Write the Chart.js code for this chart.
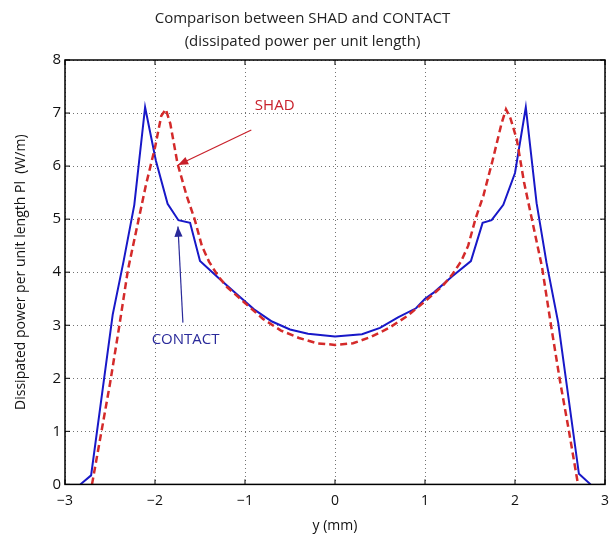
<!DOCTYPE html>
<html>
<head>
<meta charset="utf-8">
<script src="https://cdn.jsdelivr.net/npm/chart.js@4"></script>
<style>
  html, body { margin: 0; padding: 0; background: #fff; }
  #wrap { width: 612px; height: 539px; }
</style>
</head>
<body>
<div id="wrap"><canvas id="chart" width="612" height="539"></canvas></div>
<script>
// CONTACT curve (blue solid)
const contactX = [-2.83, -2.71, -2.47, -2.35, -2.23, -2.11, -1.99, -1.86, -1.74, -1.61, -1.50,
    -1.3, -1.1, -0.9, -0.7, -0.5, -0.3, 0, 0.3, 0.5, 0.7, 0.9, 1.0, 1.1, 1.3, 1.51,
    1.64, 1.74, 1.87, 2.0, 2.12, 2.24, 2.35, 2.48, 2.71, 2.84];
const contactY = [0, 0.17, 3.2, 4.2, 5.27, 7.11, 6.1, 5.29, 4.98, 4.93, 4.21,
    3.9, 3.6, 3.3, 3.07, 2.92, 2.84, 2.79, 2.83, 2.95, 3.15, 3.32, 3.5, 3.62, 3.92, 4.21,
    4.93, 4.98, 5.27, 5.87, 7.11, 5.3, 4.18, 3.05, 0.2, 0];

// SHAD curve (red dashed)
const shadX = [-2.7, -2.6, -2.5, -2.4, -2.3, -2.2, -2.1, -2.0, -1.93, -1.88, -1.83, -1.75, -1.65,
    -1.56, -1.48, -1.4, -1.3, -1.2, -1.0, -0.8, -0.6, -0.4, -0.2, 0, 0.2, 0.4, 0.6, 0.8, 1.0,
    1.2, 1.3, 1.4, 1.48, 1.56, 1.65, 1.75, 1.85, 1.90, 1.95, 2.02, 2.1, 2.2, 2.3, 2.4, 2.5, 2.6, 2.7];
const shadY = [0, 0.95, 1.9, 2.95, 4.05, 4.85, 5.65, 6.35, 6.95, 7.07, 6.8, 6.05, 5.45,
    5.0, 4.5, 4.2, 3.93, 3.72, 3.42, 3.12, 2.9, 2.76, 2.66, 2.63, 2.66, 2.78, 2.95, 3.17, 3.45,
    3.75, 3.95, 4.2, 4.5, 5.0, 5.45, 6.1, 6.8, 7.07, 6.9, 6.5, 5.7, 4.9, 4.1, 3.0, 1.95, 1.0, 0];

const xTicks = [-3, -2, -1, 0, 1, 2, 3];
const yTicks = [0, 1, 2, 3, 4, 5, 6, 7, 8];

const toPoints = (xs, ys) => xs.map((x, i) => ({ x: x, y: ys[i] }));

const FONT = '"Open Sans", "Noto Sans", sans-serif';

// labels with arrows, in data units
const notes = [
    { text: 'SHAD', color: '#c8202a', tx: -0.67, ty: 7.13, from: [-0.93, 6.68], to: [-1.745, 6.02] },
    { text: 'CONTACT', color: '#2a2a9a', tx: -1.66, ty: 2.72, from: [-1.69, 3.05], to: [-1.745, 4.86] }
];

// matlab-like box, inner ticks and annotations
const boxPlugin = {
    id: 'boxPlugin',
    afterDraw(chart) {
        const { ctx, chartArea: a, scales } = chart;
        const xs = scales.x, ys = scales.y;
        ctx.save();
        ctx.strokeStyle = '#000';
        ctx.lineWidth = 1.5;
        ctx.strokeRect(a.left, a.top, a.right - a.left, a.bottom - a.top);
        ctx.lineWidth = 1;
        ctx.beginPath();
        xTicks.forEach(v => {
            const px = xs.getPixelForValue(v);
            ctx.moveTo(px, a.bottom); ctx.lineTo(px, a.bottom - 5);
            ctx.moveTo(px, a.top); ctx.lineTo(px, a.top + 5);
        });
        yTicks.forEach(v => {
            const py = ys.getPixelForValue(v);
            ctx.moveTo(a.left, py); ctx.lineTo(a.left + 5, py);
            ctx.moveTo(a.right, py); ctx.lineTo(a.right - 5, py);
        });
        ctx.stroke();

        notes.forEach(n => {
            ctx.fillStyle = n.color;
            ctx.strokeStyle = n.color;
            ctx.font = '15px ' + FONT;
            ctx.textAlign = 'center';
            ctx.textBaseline = 'middle';
            ctx.fillText(n.text, xs.getPixelForValue(n.tx), ys.getPixelForValue(n.ty));
            const x1 = xs.getPixelForValue(n.from[0]), y1 = ys.getPixelForValue(n.from[1]);
            const x2 = xs.getPixelForValue(n.to[0]), y2 = ys.getPixelForValue(n.to[1]);
            ctx.lineWidth = 1.2;
            ctx.beginPath();
            ctx.moveTo(x1, y1); ctx.lineTo(x2, y2);
            ctx.stroke();
            const ang = Math.atan2(y2 - y1, x2 - x1);
            const len = 11, w = 0.38;
            ctx.beginPath();
            ctx.moveTo(x2, y2);
            ctx.lineTo(x2 - len * Math.cos(ang - w), y2 - len * Math.sin(ang - w));
            ctx.lineTo(x2 - len * Math.cos(ang + w), y2 - len * Math.sin(ang + w));
            ctx.closePath();
            ctx.fill();
        });
        ctx.restore();
    }
};

new Chart(document.getElementById('chart'), {
    type: 'scatter',
    data: {
        datasets: [
            {
                label: 'SHAD',
                data: toPoints(shadX, shadY),
                showLine: true,
                borderColor: '#d42a2a',
                borderWidth: 2.5,
                borderDash: [7, 4],
                pointRadius: 0,
                tension: 0
            },
            {
                label: 'CONTACT',
                data: toPoints(contactX, contactY),
                showLine: true,
                borderColor: '#1818c8',
                borderWidth: 2,
                pointRadius: 0,
                tension: 0
            }
        ]
    },
    options: {
        responsive: false,
        animation: false,
        layout: { padding: { left: 0, right: 7, top: 0, bottom: 5 } },
        plugins: {
            legend: { display: false },
            tooltip: { enabled: false },
            title: {
                display: true,
                text: ['Comparison between SHAD and CONTACT', '(dissipated power per unit length)'],
                color: '#222',
                font: { family: FONT, size: 15, weight: 'normal', lineHeight: 1.55 },
                padding: { top: 7, bottom: 6.5 }
            }
        },
        scales: {
            x: {
                type: 'linear',
                min: -3, max: 3,
                afterBuildTicks: s => { s.ticks = xTicks.map(v => ({ value: v })); },
                afterFit: s => { s.paddingLeft = 0; s.paddingRight = 0; },
                ticks: {
                    color: '#111',
                    font: { family: FONT, size: 14 },
                    padding: 8,
                    callback: v => (v < 0 ? '\u2212' + Math.abs(v) : String(v))
                },
                grid: { color: 'rgba(0,0,0,0.55)', borderDash: [1, 3], drawTicks: false, lineWidth: 1 },
                border: { display: false, dash: [1, 3] },
                title: {
                    display: true, text: 'y (mm)', color: '#111',
                    font: { family: FONT, size: 14 }, padding: { top: 0, bottom: 0 }
                }
            },
            y: {
                type: 'linear',
                min: 0, max: 8,
                afterBuildTicks: s => { s.ticks = yTicks.map(v => ({ value: v })); },
                afterFit: s => { s.width = 65; },
                ticks: { color: '#111', font: { family: FONT, size: 15 }, padding: 4 },
                grid: { color: 'rgba(0,0,0,0.55)', borderDash: [1, 3], drawTicks: false, lineWidth: 1 },
                border: { display: false, dash: [1, 3] },
                title: {
                    display: true, text: 'Dissipated power per unit length Pl  (W/m)', color: '#111',
                    font: { family: FONT, size: 14 }, padding: { top: 13, bottom: 0 }
                }
            }
        }
    },
    plugins: [boxPlugin]
});
</script>
</body>
</html>
